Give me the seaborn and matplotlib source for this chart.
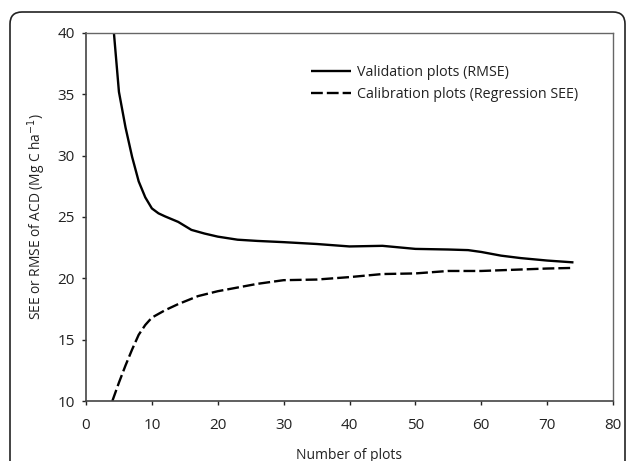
import numpy as np
import pandas as pd
import matplotlib
matplotlib.use("Agg")
import matplotlib.pyplot as plt
import seaborn as sns
from matplotlib.patches import FancyBboxPatch
from matplotlib.transforms import IdentityTransform

# Data
val_x = [4, 5, 6, 7, 8, 9, 10, 11, 12, 14, 16, 18, 20, 23, 26, 30, 35, 40, 45, 50, 55, 58, 60, 63, 66, 70, 74]
val_y = [41.5, 35.2, 32.3, 29.9, 27.9, 26.6, 25.7, 25.3, 25.05, 24.6, 23.95, 23.65, 23.4, 23.15, 23.05, 22.95,
         22.8, 22.6, 22.65, 22.4, 22.35, 22.3, 22.15, 21.85, 21.65, 21.45, 21.3]
cal_x = [4, 5, 6, 7, 8, 9, 10, 12, 14, 17, 20, 23, 26, 30, 35, 40, 45, 50, 55, 60, 65, 70, 74]
cal_y = [10.0, 11.5, 12.9, 14.2, 15.4, 16.2, 16.8, 17.4, 17.9, 18.55, 18.95, 19.25, 19.55, 19.85, 19.9,
         20.1, 20.35, 20.4, 20.6, 20.6, 20.7, 20.8, 20.85]
series_names = ["Validation plots (RMSE)", "Calibration plots (Regression SEE)"]
x_ticks = [0, 10, 20, 30, 40, 50, 60, 70, 80]
y_ticks = [10, 15, 20, 25, 30, 35, 40]

df = pd.concat([
    pd.DataFrame({"x": val_x, "y": val_y, "series": series_names[0]}),
    pd.DataFrame({"x": cal_x, "y": cal_y, "series": series_names[1]}),
])

sns.set_style("white")
plt.rcParams["font.family"] = ["Open Sans", "DejaVu Sans"]

W, H = 629, 461
fig = plt.figure(figsize=(W / 100, H / 100), dpi=100)
ax = fig.add_axes([86 / W, 1 - 401 / H, (613 - 86) / W, (401 - 33) / H])

sns.lineplot(data=df, x="x", y="y", hue="series", style="series",
             palette=["black", "black"], dashes=[(1, 0), (5, 1.7)],
             linewidth=1.7, ax=ax, sort=False, estimator=None)

ax.set_xlim(0, 80)
ax.set_ylim(10, 40)
ax.set_xticks(x_ticks)
ax.set_yticks(y_ticks)
ax.tick_params(axis="both", labelsize=11, colors="#222222", direction="out", length=3, width=1,
               bottom=True, left=True)
ax.tick_params(axis="x", pad=9)
ax.tick_params(axis="y", pad=5)
for t in ax.get_xticklabels() + ax.get_yticklabels():
    t.set_color("#222222")
for s in ["left", "bottom"]:
    ax.spines[s].set_color("#444444")
    ax.spines[s].set_linewidth(1.2)
for s in ["top", "right"]:
    ax.spines[s].set_color("#666666")
    ax.spines[s].set_linewidth(1.0)

ax.set_xlabel("Number of plots", fontsize=10, color="#222222")
ax.set_ylabel("SEE or RMSE of ACD (Mg C ha$^{-1}$)", fontsize=9.9, color="#222222")
ax.xaxis.set_label_coords(0.5, (401 - 448) / 368)
ax.yaxis.set_label_coords((48 - 86) / 527, 0.5)

leg = ax.legend(loc="upper left", bbox_to_anchor=(311 / W, 1 - 65 / H), bbox_transform=fig.transFigure,
                frameon=False, fontsize=10.3, handlelength=2.8, handletextpad=0.45,
                labelspacing=0.5, borderpad=0, borderaxespad=0)
for t in leg.get_texts():
    t.set_color("#222222")

# Rounded border frame around the figure
border = FancyBboxPatch((10, -40), 615, 449 + 40, boxstyle="round,pad=0,rounding_size=12",
                        transform=IdentityTransform(), fill=False, edgecolor="#222222",
                        linewidth=1.2, clip_on=False)
fig.patches.append(border)

fig.savefig("out.png", dpi=100)
